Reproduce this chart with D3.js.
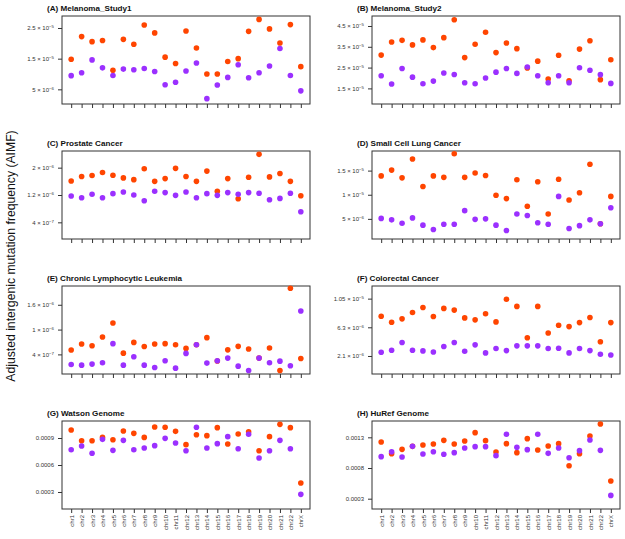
<!DOCTYPE html>
<html>
<head>
<meta charset="utf-8">
<script src="https://cdn.jsdelivr.net/npm/d3@7"></script>
<style>
  html, body { margin: 0; padding: 0; background: #fff; }
  svg { display: block; font-family: "Liberation Sans", Arial, Helvetica, sans-serif; }
</style>
</head>
<body>
<svg id="chart" width="625" height="539"></svg>
<script>
// ---------------- DATA ----------------
const chromosomes = ["chr1","chr2","chr3","chr4","chr5","chr6","chr7","chr8","chr9","chr10","chr11","chr12",
  "chr13","chr14","chr15","chr16","chr17","chr18","chr19","chr20","chr21","chr22","chrX"];

const panelTitles = ["(A) Melanoma_Study1","(B) Melanoma_Study2","(C) Prostate Cancer","(D) Small Cell Lung Cancer",
  "(E) Chronic Lymphocytic Leukemia","(F) Colorectal Cancer","(G) Watson Genome","(H) HuRef Genome"];

// unit multiplier for each panel (values below are expressed in these units)
const panelUnits = [1e-5, 1e-5, 1e-6, 1e-5, 1e-6, 1e-5, 1e-4, 1e-4];

// y-axis ranges (in panel units)
const yMinA = 0.022, yMaxA = 2.891;
const yMinB = 0.75,  yMaxB = 4.98;
const yMinC = -0.088, yMaxC = 2.488;
const yMinD = 0.083, yMaxD = 1.906;
const yMinE = -0.074, yMaxE = 2.054;
const yMinF = -0.054, yMaxF = 1.235;
const yMinG = 1.11, yMaxG = 10.89;
const yMinH = 1.32, yMaxH = 15.66;

// tick values (panel units) and labels
const ticksA = [2.5, 1.5, 0.5],  tickLabelsA = ["2.5 × 10^-5","1.5 × 10^-5","5 × 10^-6"];
const ticksB = [4.5, 3.5, 2.5, 1.5], tickLabelsB = ["4.5 × 10^-5","3.5 × 10^-5","2.5 × 10^-5","1.5 × 10^-5"];
const ticksC = [2.0, 1.2, 0.4],  tickLabelsC = ["2 × 10^-6","1.2 × 10^-6","4 × 10^-7"];
const ticksD = [1.5, 1.0, 0.5],  tickLabelsD = ["1.5 × 10^-5","1 × 10^-5","5 × 10^-6"];
const ticksE = [1.6, 1.0, 0.4],  tickLabelsE = ["1.6 × 10^-6","1 × 10^-6","4 × 10^-7"];
const ticksF = [1.05, 0.63, 0.21], tickLabelsF = ["1.05 × 10^-5","6.3 × 10^-6","2.1 × 10^-6"];
const ticksG = [9, 6, 3],        tickLabelsG = ["0.0009","0.0006","0.0003"];
const ticksH = [13, 8, 3],       tickLabelsH = ["0.0013","0.0008","0.0003"];

// series values (panel units): orange series and purple series
const orangeA = [1.48,2.22,2.055,2.09,1.12,2.13,1.97,2.60,2.34,1.55,1.34,2.40,1.85,1.00,1.00,1.41,1.50,2.39,2.78,2.47,2.01,2.61,1.24];
const purpleA = [0.946,1.04,1.46,1.20,0.95,1.16,1.14,1.18,1.08,0.65,0.73,1.10,1.36,0.196,0.64,0.89,1.30,0.88,1.04,1.26,1.83,0.95,0.45];

const orangeB = [3.10,3.73,3.81,3.59,3.83,3.46,3.94,4.80,2.98,3.62,4.20,3.22,3.68,3.41,2.48,2.81,1.95,3.09,1.87,3.39,3.79,1.92,2.88];
const purpleB = [2.11,1.71,2.46,2.04,1.72,1.85,2.24,2.17,1.77,1.72,2.00,2.28,2.46,2.22,2.53,2.11,1.77,2.11,1.77,2.49,2.37,2.16,1.74];

const orangeC = [1.61,1.74,1.77,1.86,1.78,1.70,1.65,1.97,1.60,1.68,1.98,1.74,1.60,1.90,1.31,1.68,1.09,1.72,2.39,1.73,1.83,1.60,1.18];
const purpleC = [1.17,1.12,1.22,1.12,1.24,1.29,1.20,1.03,1.31,1.27,1.19,1.29,1.12,1.24,1.19,1.27,1.22,1.27,1.25,1.06,1.10,1.25,0.71];

const orangeD = [1.39,1.51,1.35,1.74,1.17,1.39,1.36,1.85,1.36,1.45,1.40,0.99,0.92,1.31,0.76,1.27,0.60,1.32,0.89,1.04,1.63,0.40,0.965];
const purpleD = [0.51,0.48,0.41,0.52,0.37,0.28,0.39,0.39,0.67,0.49,0.50,0.37,0.26,0.60,0.57,0.42,0.39,0.965,0.30,0.36,0.48,0.40,0.73];

const orangeE = [0.505,0.65,0.61,0.82,1.16,0.43,0.69,0.59,0.65,0.66,0.635,0.545,0.635,0.805,0.24,0.51,0.595,0.53,0.31,0.555,0.01,2.00,0.30];
const purpleE = [0.156,0.14,0.165,0.197,0.66,0.14,0.343,0.14,0.083,0.246,0.067,0.424,0.635,0.19,0.246,0.31,0.116,0.01,0.31,0.197,0.237,0.124,1.45];

const orangeF = [0.793,0.704,0.754,0.847,0.92,0.788,0.907,0.882,0.768,0.739,0.828,0.709,1.04,0.936,0.477,0.936,0.546,0.66,0.64,0.699,0.773,0.418,0.699];
const purpleF = [0.264,0.294,0.408,0.294,0.284,0.269,0.348,0.408,0.279,0.373,0.255,0.319,0.289,0.358,0.358,0.358,0.319,0.324,0.255,0.319,0.289,0.235,0.225];

const orangeG = [9.89,8.70,8.70,9.07,8.81,9.78,9.52,9.07,10.22,10.19,9.74,8.26,9.37,9.26,10.15,8.33,9.44,9.70,7.59,9.15,10.52,10.15,4.00];
const purpleG = [7.70,8.11,7.30,8.85,7.63,8.74,7.70,7.89,8.15,8.96,8.44,7.59,10.19,7.89,8.37,9.15,7.81,9.41,6.78,7.59,8.74,7.81,2.74];

const orangeH = [12.24,10.34,11.04,11.53,11.75,11.91,12.51,11.91,12.40,13.76,12.46,10.61,11.97,10.50,12.78,10.93,11.59,11.97,8.38,10.34,13.22,15.17,5.88];
const purpleH = [9.85,10.66,9.79,11.53,10.28,10.66,10.23,10.50,11.26,11.48,11.48,10.01,13.49,11.37,10.99,13.49,10.39,11.26,9.68,10.83,12.57,10.88,3.54];

const yAxisTitle = "Adjusted intergenic mutation frequency (AIMF)";
const orangeColor = "#FF4500";
const purpleColor = "#9B30FF";

// ---------------- BUILD ----------------
const panels = [
  {orange: orangeA, purple: purpleA, ticks: ticksA, labels: tickLabelsA, yMin: yMinA, yMax: yMaxA},
  {orange: orangeB, purple: purpleB, ticks: ticksB, labels: tickLabelsB, yMin: yMinB, yMax: yMaxB},
  {orange: orangeC, purple: purpleC, ticks: ticksC, labels: tickLabelsC, yMin: yMinC, yMax: yMaxC},
  {orange: orangeD, purple: purpleD, ticks: ticksD, labels: tickLabelsD, yMin: yMinD, yMax: yMaxD},
  {orange: orangeE, purple: purpleE, ticks: ticksE, labels: tickLabelsE, yMin: yMinE, yMax: yMaxE},
  {orange: orangeF, purple: purpleF, ticks: ticksF, labels: tickLabelsF, yMin: yMinF, yMax: yMaxF},
  {orange: orangeG, purple: purpleG, ticks: ticksG, labels: tickLabelsG, yMin: yMinG, yMax: yMaxG},
  {orange: orangeH, purple: purpleH, ticks: ticksH, labels: tickLabelsH, yMin: yMinH, yMax: yMaxH}
].map((p, i) => Object.assign(p, {title: panelTitles[i], unit: panelUnits[i]}));

const svg = d3.select("#chart");
const colX = [62, 372];
const rowY0 = 16, rowStep = 135;
const pw = 248, ph = 88;
const axisColor = "#333";

// y-axis title
svg.append("text")
  .attr("transform", `translate(14.5, 256) rotate(-90)`)
  .attr("text-anchor", "middle")
  .attr("font-size", 12.2)
  .attr("fill", "#111")
  .text(yAxisTitle);

const n = chromosomes.length;
const pad = (n - 1) * 0.04;

panels.forEach((p, i) => {
  const col = i % 2, row = Math.floor(i / 2);
  const x0 = colX[col], y0 = rowY0 + row * rowStep;
  const g = svg.append("g").attr("transform", `translate(${x0},${y0})`);

  const x = d3.scaleLinear().domain([1 - pad, n + pad]).range([0, pw]);
  const y = d3.scaleLinear().domain([p.yMin * p.unit, p.yMax * p.unit]).range([ph, 0]);

  // title
  g.append("text")
    .attr("x", -15).attr("y", -5)
    .attr("font-size", 8.1).attr("font-weight", "bold").attr("fill", "#111")
    .text(p.title);

  // y axis
  const yAxis = d3.axisLeft(y)
    .tickValues(p.ticks.map(t => t * p.unit))
    .tickSize(4).tickPadding(4)
    .tickFormat("");
  const ya = g.append("g").call(yAxis);
  ya.select(".domain").remove();
  ya.selectAll(".tick line").attr("stroke", axisColor);
  ya.selectAll(".tick").each(function(d, k) {
    const lab = p.labels[k];
    const t = d3.select(this).select("text")
      .attr("font-size", 6).attr("fill", "#333")
      .attr("font-family", "'Liberation Sans', Arial, sans-serif");
    t.text(null);
    const parts = lab.split("^");
    t.append("tspan").text(parts[0]);
    if (parts.length > 1) {
      t.append("tspan").attr("dy", "-0.45em").attr("font-size", 4.4).text(parts[1].replace("-", "−"));
    }
  });

  // x axis
  const xAxis = d3.axisBottom(x)
    .tickValues(d3.range(1, n + 1))
    .tickSize(4).tickPadding(2)
    .tickFormat((d) => row === 3 ? chromosomes[d - 1] : "");
  const xa = g.append("g").attr("transform", `translate(0,${ph})`).call(xAxis);
  xa.select(".domain").remove();
  xa.selectAll(".tick line").attr("stroke", axisColor);
  xa.selectAll(".tick text")
    .attr("font-size", 6).attr("fill", "#333")
    .attr("font-family", "'Liberation Sans', Arial, sans-serif")
    .attr("text-anchor", "end")
    .attr("transform", "translate(0,6) rotate(-90)")
    .attr("x", 0).attr("y", 0).attr("dy", "0.35em");

  // box
  g.append("rect")
    .attr("x", 0).attr("y", 0).attr("width", pw).attr("height", ph)
    .attr("fill", "none").attr("stroke", axisColor).attr("stroke-width", 1);

  // points
  g.append("g").selectAll("circle")
    .data(p.orange.map((v, k) => ({k, v})))
    .join("circle")
    .attr("cx", d => x(d.k + 1))
    .attr("cy", d => y(d.v * p.unit))
    .attr("r", 2.8)
    .attr("fill", orangeColor);
  g.append("g").selectAll("circle")
    .data(p.purple.map((v, k) => ({k, v})))
    .join("circle")
    .attr("cx", d => x(d.k + 1))
    .attr("cy", d => y(d.v * p.unit))
    .attr("r", 2.8)
    .attr("fill", purpleColor);
});
</script>
</body>
</html>
